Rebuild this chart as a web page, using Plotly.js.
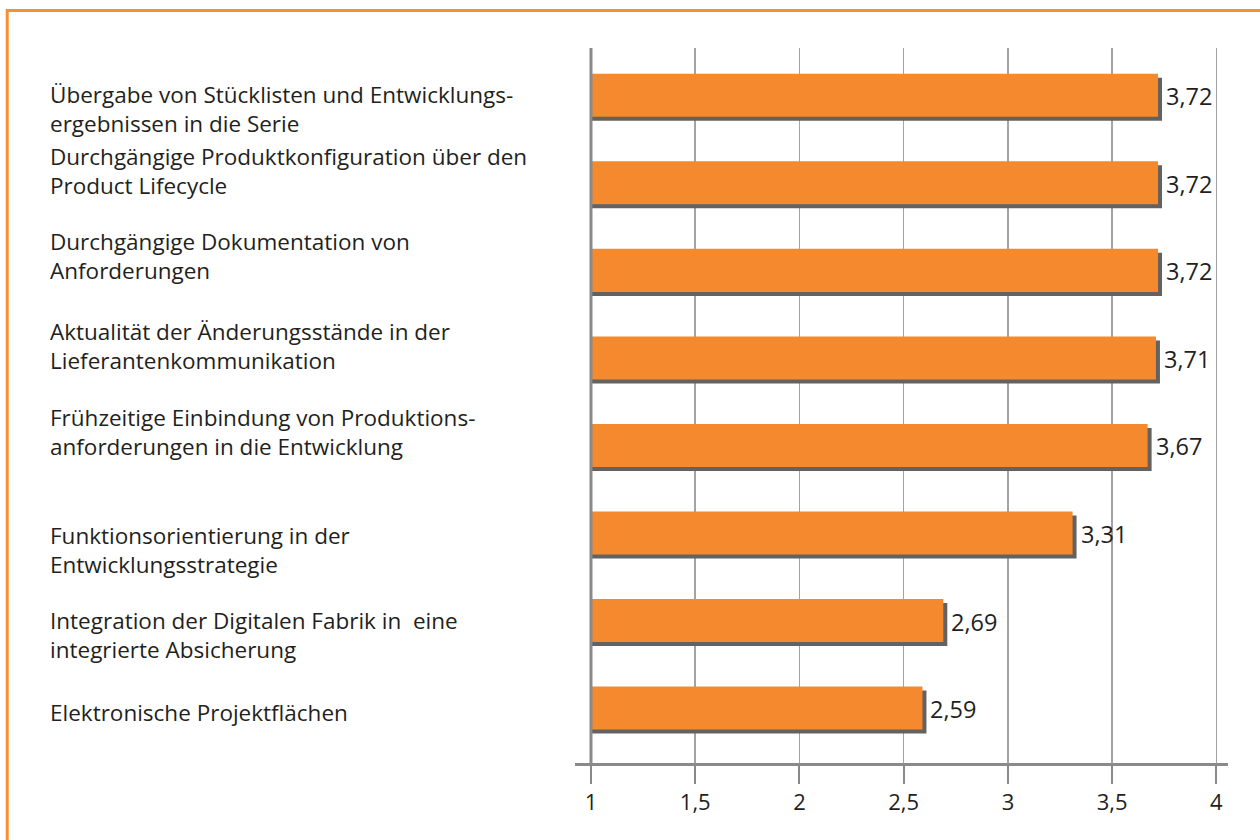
<!DOCTYPE html>
<html>
<head>
<meta charset="utf-8">
<script src="https://cdn.plot.ly/plotly-3.0.1.min.js"></script>
<style>
  html, body { margin: 0; padding: 0; background: #ffffff; }
  #chart { width: 1260px; height: 840px; }
</style>
</head>
<body>
<div id="chart"></div>
<script>
// ---- data ----
const categories = [
  "Übergabe von Stücklisten und Entwicklungs-<br>ergebnissen in die Serie",
  "Durchgängige Produktkonfiguration über den<br>Product Lifecycle",
  "Durchgängige Dokumentation von<br>Anforderungen",
  "Aktualität der Änderungsstände in der<br>Lieferantenkommunikation",
  "Frühzeitige Einbindung von Produktions-<br>anforderungen in die Entwicklung",
  "Funktionsorientierung in der<br>Entwicklungsstrategie",
  "Integration der Digitalen Fabrik in  eine<br>integrierte Absicherung",
  "Elektronische Projektflächen"
];
const values = [3.72, 3.72, 3.72, 3.71, 3.67, 3.31, 2.69, 2.59];
const tickValues = [1, 1.5, 2, 2.5, 3, 3.5, 4];
const tickLabels = ["1", "1,5", "2", "2,5", "3", "3,5", "4"];
const axisBase = 1;

// ---- style / layout constants ----
const ORANGE = "#f4892e";
const SHADOW = "#626262";
const TEXT = "#231f20";
const GRID = "#a3a3a3";
const AXIS = "#8a8a8a";
const FONT = "'Open Sans', 'Noto Sans', sans-serif";

const pxPerUnitX = 208.6;   // pixels per x unit
const pxPerCat = 87.5;      // pixels per category
const barW = 43 / pxPerCat;
const shadowDx = 4 / pxPerUnitX;
const shadowDy = 4 / pxPerCat;
// vertical nudge of each left label (px, positive = up)
const labelShift = [-14, 12, 14, 12, 13, -17, -14, -4];

const yIdx = categories.map((c, i) => i);

const shadowTrace = {
  type: "bar", orientation: "h",
  y: yIdx,
  x: values.map(v => v - axisBase + shadowDx),
  base: axisBase,
  width: barW,
  offset: -barW / 2 + shadowDy,
  marker: { color: SHADOW, line: { width: 0 } },
  hoverinfo: "skip",
  showlegend: false
};

const barTrace = {
  type: "bar", orientation: "h",
  y: yIdx,
  x: values.map(v => v - axisBase),
  base: axisBase,
  width: barW,
  offset: -barW / 2,
  marker: { color: ORANGE, line: { width: 0 } },
  hoverinfo: "skip",
  showlegend: false
};

const annotations = [];
categories.forEach((c, i) => {
  annotations.push({
    xref: "paper", yref: "y",
    x: -0.8055, y: i,
    xanchor: "left", yanchor: "middle",
    align: "left",
    text: c,
    showarrow: false,
    borderpad: 0,
    yshift: labelShift[i],
    font: { family: FONT, size: 22.5, color: TEXT }
  });
});
values.forEach((v, i) => {
  annotations.push({
    xref: "x", yref: "y",
    x: v, y: i,
    xanchor: "left", yanchor: "middle",
    xshift: 7, yshift: -1,
    borderpad: 0,
    text: v.toFixed(2).replace(".", ","),
    showarrow: false,
    font: { family: FONT, size: 23.5, color: TEXT }
  });
});

const layout = {
  width: 1260, height: 840,
  margin: { l: 575, r: 32, t: 48, b: 77, pad: 0 },
  paper_bgcolor: "#ffffff",
  plot_bgcolor: "#ffffff",
  barmode: "overlay",
  font: { family: FONT, color: TEXT },
  xaxis: {
    range: [0.9233, 4.0556],
    tickvals: tickValues,
    ticktext: tickLabels,
    showgrid: true, gridcolor: GRID, gridwidth: 1.5,
    zeroline: false,
    showline: true, linecolor: AXIS, linewidth: 3,
    ticks: "outside", ticklen: 18, tickwidth: 2, tickcolor: AXIS,
    tickfont: { family: FONT, size: 22, color: TEXT },
    fixedrange: true
  },
  yaxis: {
    range: [7.627, -0.54],
    showticklabels: false,
    showgrid: false, zeroline: false, showline: false,
    ticks: "",
    fixedrange: true
  },
  shapes: [
    { type: "line", xref: "x", yref: "paper", x0: axisBase, x1: axisBase, y0: 0, y1: 1,
      line: { color: AXIS, width: 3 }, layer: "above" },
    { type: "rect", xref: "paper", yref: "paper",
      x0: -0.8695, x1: 1.06, y0: 1.0525, y1: -0.12,
      line: { color: "#f7902f", width: 3 }, fillcolor: "rgba(0,0,0,0)", layer: "above" }
  ],
  annotations: annotations,
  showlegend: false
};

Plotly.newPlot("chart", [shadowTrace, barTrace], layout, { displayModeBar: false, staticPlot: true });
</script>
</body>
</html>
